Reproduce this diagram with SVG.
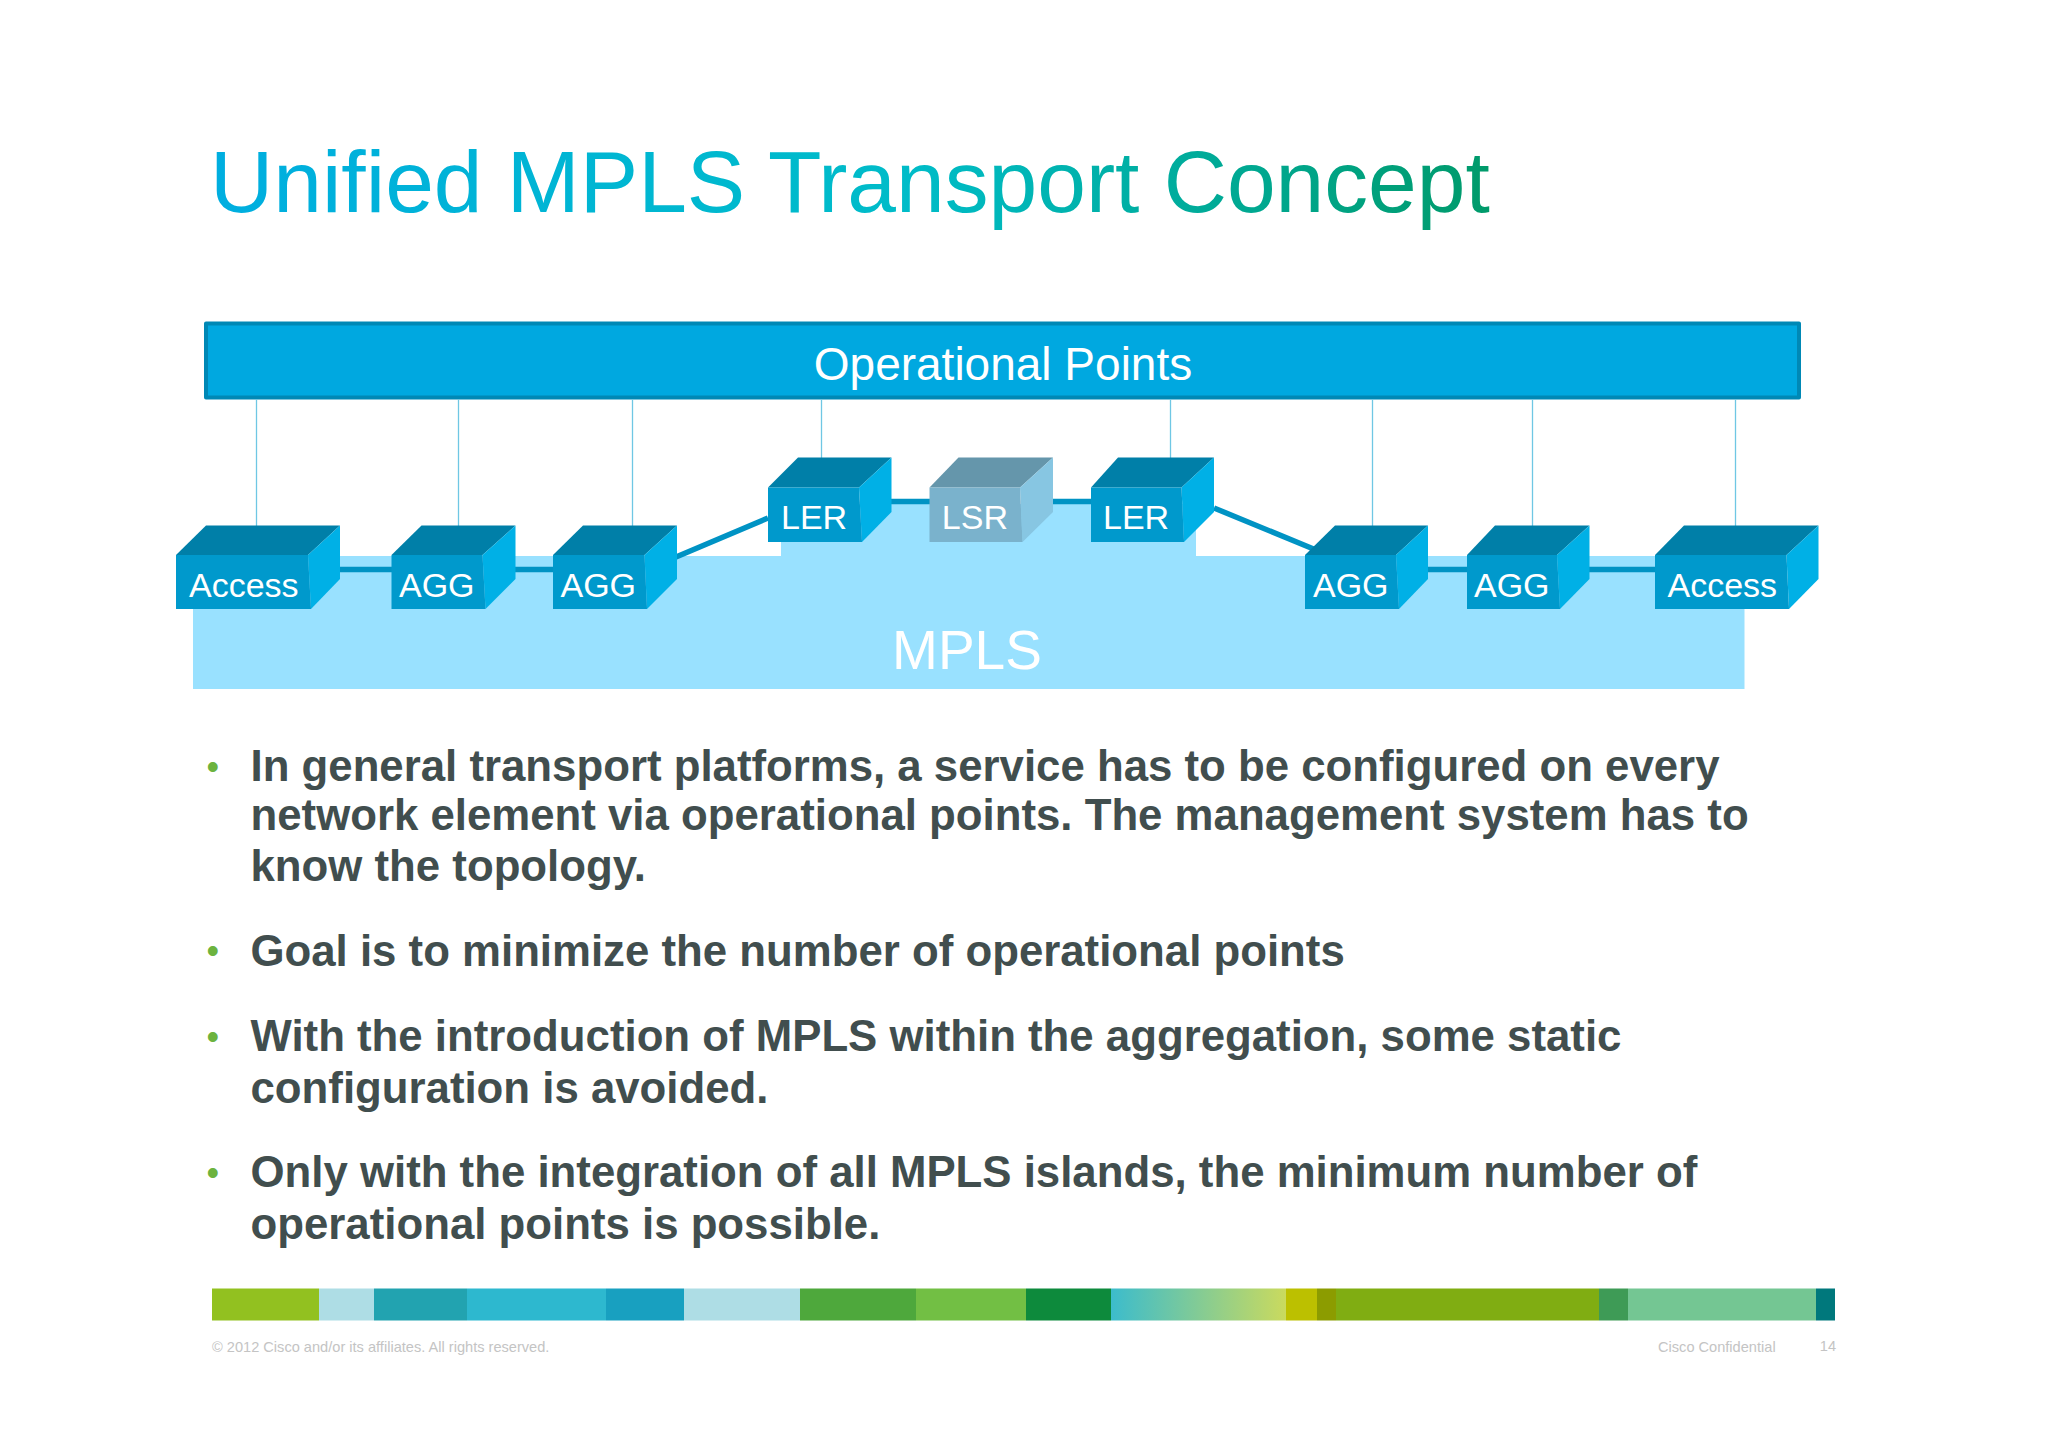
<svg xmlns="http://www.w3.org/2000/svg" width="2048" height="1447" viewBox="0 0 2048 1447">
<style>
text{font-family:"Liberation Sans",Arial,sans-serif}
.front{fill:#0099cc}.side{fill:#00b0e6}.top{fill:#007fa8}
.lbl{fill:#fff;font-size:34px}
.drop{stroke:#6fc7e4;stroke-width:1.3;fill:none}
.link{stroke:#0093c4;stroke-width:5.5;fill:none}
.body{fill:#414e4e;font-size:43.77px;font-weight:700}
.bullet{fill:#6cb33f;font-size:36px;font-weight:400}
.foot{fill:#c4c4c4;font-size:14.6px}
</style>
<defs>
<linearGradient id="tg" gradientUnits="userSpaceOnUse" x1="210" y1="0" x2="1490" y2="0">
<stop offset="0" stop-color="#00aee0"/><stop offset=".55" stop-color="#00bcc8"/><stop offset="1" stop-color="#009a6a"/>
</linearGradient>
<linearGradient id="sg"><stop offset="0" stop-color="#3cbccc"/><stop offset="1" stop-color="#cada5e"/></linearGradient>
</defs>
<rect width="2048" height="1447" fill="#fff"/>
<text id="title" x="210" y="212" font-size="87.55" fill="url(#tg)">Unified MPLS Transport Concept</text>

<g id="mpls-region">
<polygon points="193,556 781,556 781,504 1196,504 1196,556 1744.500,556 1744.500,689 193,689" fill="#99e1ff"/>
<text x="967" y="669" font-size="55" fill="#fff" text-anchor="middle">MPLS</text>
</g>

<g id="operational-points">
<rect x="206" y="323.500" width="1593" height="74" fill="#00a8e0" stroke="#0088b5" stroke-width="4" stroke-linejoin="round"/>
<text x="1003" y="380" font-size="46" fill="#fff" text-anchor="middle">Operational Points</text>
</g>

<g id="connectors">
<path class="drop" d="M256.500 399V526M458.500 399V526M632.500 399V526M821.500 399V458M1170.500 399V458M1372.500 399V526M1532.500 399V526M1735.500 399V526"/>
<path class="link" d="M340 569.500H392M515 569.500H553M890 501.500H930M1052 501.500H1091M1428 569.500H1467M1589 569.500H1655M676 557L768 518M1214 508L1316 550"/>
</g>

<g id="access-1"><polygon class="top" points="176,555 206,525.500 340,525.500 308,555"/><polygon class="side" points="308,555 340,525.500 340,579 311,609"/><polygon class="front" points="176,555 308,555 311,609 176,609"/><text class="lbl" x="189" y="597">Access</text></g>
<g id="agg-1"><polygon class="top" points="391.500,555 421.500,525.500 515.500,525.500 482.500,555"/><polygon class="side" points="482.500,555 515.500,525.500 515.500,579 485.500,609"/><polygon class="front" points="391.500,555 482.500,555 485.500,609 391.500,609"/><text class="lbl" x="399" y="597">AGG</text></g>
<g id="agg-2"><polygon class="top" points="553,555 583,525.500 677,525.500 644.500,555"/><polygon class="side" points="644.500,555 677,525.500 677,579 647,609"/><polygon class="front" points="553,555 644.500,555 647,609 553,609"/><text class="lbl" x="560.500" y="597">AGG</text></g>
<g id="ler-1"><polygon class="top" points="768,487.500 798,457.500 891.500,457.500 859,487.500"/><polygon class="side" points="859,487.500 891.500,457.500 891.500,512 862,542"/><polygon class="front" points="768,487.500 859,487.500 862,542 768,542"/><text class="lbl" x="781" y="529">LER</text></g>
<g id="lsr"><polygon points="929.500,487.500 958.500,457.500 1053,457.500 1020,487.500" fill="#6596ab"/><polygon points="1020,487.500 1053,457.500 1053,512 1022.500,542" fill="#87c6e2"/><polygon points="929.500,487.500 1020,487.500 1022.500,542 929.500,542" fill="#7ab2cc"/><text class="lbl" x="941.800" y="529">LSR</text></g>
<g id="ler-2"><polygon class="top" points="1091,487.500 1118,457.500 1214,457.500 1181.500,487.500"/><polygon class="side" points="1181.500,487.500 1214,457.500 1214,512 1184,542"/><polygon class="front" points="1091,487.500 1181.500,487.500 1184,542 1091,542"/><text class="lbl" x="1103" y="529">LER</text></g>
<g id="agg-3"><polygon class="top" points="1305,555 1335,525.500 1428,525.500 1396,555"/><polygon class="side" points="1396,555 1428,525.500 1428,579 1399,609"/><polygon class="front" points="1305,555 1396,555 1399,609 1305,609"/><text class="lbl" x="1313" y="597">AGG</text></g>
<g id="agg-4"><polygon class="top" points="1467,555 1495,525.500 1589.500,525.500 1557,555"/><polygon class="side" points="1557,555 1589.500,525.500 1589.500,579 1560,609"/><polygon class="front" points="1467,555 1557,555 1560,609 1467,609"/><text class="lbl" x="1474" y="597">AGG</text></g>
<g id="access-2"><polygon class="top" points="1655,555 1684,525.500 1818.500,525.500 1786.500,555"/><polygon class="side" points="1786.500,555 1818.500,525.500 1818.500,579 1789,609"/><polygon class="front" points="1655,555 1786.500,555 1789,609 1655,609"/><text class="lbl" x="1667.500" y="597">Access</text></g>

<g id="bullets">
<text class="bullet" x="206.500" y="779">•</text>
<text class="bullet" x="206.500" y="963">•</text>
<text class="bullet" x="206.500" y="1049">•</text>
<text class="bullet" x="206.500" y="1185">•</text>
<text class="body" x="250.500" y="781">In general transport platforms, a service has to be configured on every</text>
<text class="body" x="250.500" y="830">network element via operational points. The management system has to</text>
<text class="body" x="250.500" y="881">know the topology.</text>
<text class="body" x="250.500" y="966">Goal is to minimize the number of operational points</text>
<text class="body" x="250.500" y="1051">With the introduction of MPLS within the aggregation, some static</text>
<text class="body" x="250.500" y="1103">configuration is avoided.</text>
<text class="body" x="250.500" y="1187">Only with the integration of all MPLS islands, the minimum number of</text>
<text class="body" x="250.500" y="1239">operational points is possible.</text>
</g>

<g id="color-strip">
<rect x="212" y="1288.500" width="107" height="32" fill="#92c120"/>
<rect x="319" y="1288.500" width="55" height="32" fill="#aedde5"/>
<rect x="374" y="1288.500" width="93" height="32" fill="#22a3b0"/>
<rect x="467" y="1288.500" width="139" height="32" fill="#2db8cf"/>
<rect x="606" y="1288.500" width="78" height="32" fill="#18a0c0"/>
<rect x="684" y="1288.500" width="116" height="32" fill="#aedde5"/>
<rect x="800" y="1288.500" width="116" height="32" fill="#4ea83c"/>
<rect x="916" y="1288.500" width="110" height="32" fill="#72bf44"/>
<rect x="1026" y="1288.500" width="85" height="32" fill="#0d8a3c"/>
<rect x="1111" y="1288.500" width="175" height="32" fill="url(#sg)"/>
<rect x="1286" y="1288.500" width="31" height="32" fill="#bcc000"/>
<rect x="1317" y="1288.500" width="19" height="32" fill="#8c9c00"/>
<rect x="1336" y="1288.500" width="263" height="32" fill="#80ad12"/>
<rect x="1599" y="1288.500" width="29" height="32" fill="#3e9b56"/>
<rect x="1628" y="1288.500" width="188" height="32" fill="#74c693"/>
<rect x="1816" y="1288.500" width="19" height="32" fill="#00787c"/>
</g>

<g id="footer">
<text class="foot" x="212" y="1352">© 2012 Cisco and/or its affiliates. All rights reserved.</text>
<text class="foot" x="1658" y="1352">Cisco Confidential</text>
<text class="foot" x="1836" y="1351" text-anchor="end">14</text>
</g>
</svg>
